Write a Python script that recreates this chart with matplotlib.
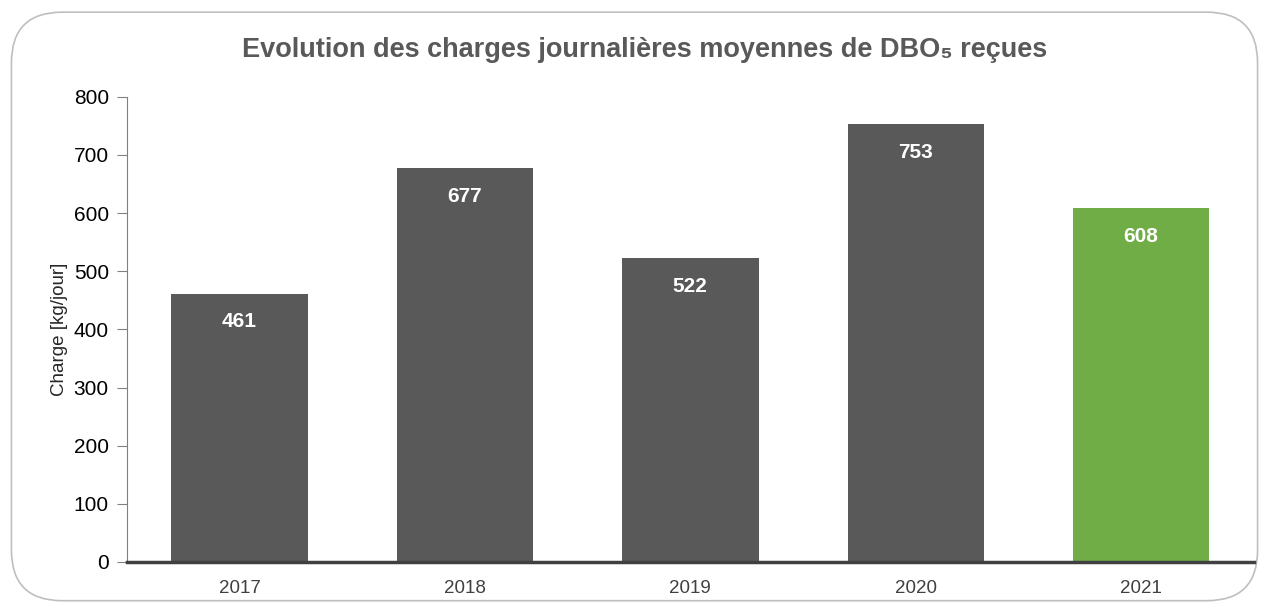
import matplotlib.pyplot as plt
from matplotlib.patches import FancyBboxPatch

# donnees
annees = ['2017', '2018', '2019', '2020', '2021']
charges = [461, 677, 522, 753, 608]
couleurs = ['#595959', '#595959', '#595959', '#595959', '#70AD47']

plt.rcParams['font.family'] = ['Liberation Sans', 'DejaVu Sans']

fig = plt.figure(figsize=(12.69, 6.08), dpi=100)
ax = fig.add_axes([0.100, 0.0757, 0.888, 0.765])

# cadre arrondi autour du graphique
cadre = FancyBboxPatch((0.009, 0.012), 0.982, 0.968, boxstyle='round,pad=0,rounding_size=0.04',
                       transform=fig.transFigure, facecolor='white', edgecolor='#BFBFBF',
                       linewidth=1.2, zorder=-10, mutation_aspect=1269/608)
fig.patches.append(cadre)

x = range(len(annees))
barres = ax.bar(x, charges, width=0.605, color=couleurs, zorder=2)

# etiquettes des valeurs dans les barres
for b, v in zip(barres, charges):
    ax.text(b.get_x() + b.get_width() / 2, v - 48, str(v), ha='center', va='center',
            color='white', fontsize=15, fontweight='bold')

ax.set_xlim(-0.5, 4.5)
ax.set_ylim(0, 800)
ax.set_yticks(range(0, 801, 100))
ax.set_xticks(list(x))
ax.set_xticklabels(annees)
ax.tick_params(axis='y', labelsize=15, length=7, color='#808080', labelcolor='black', pad=6)
ax.tick_params(axis='x', labelsize=13.5, length=0, labelcolor='#404040', pad=13)
ax.set_ylabel('Charge [kg/jour]', fontsize=13.5, color='#262626', labelpad=4)

ax.spines['top'].set_visible(False)
ax.spines['right'].set_visible(False)
ax.spines['left'].set_color('#808080')
ax.spines['bottom'].set_color('#404040')
ax.spines['bottom'].set_linewidth(2.5)
ax.spines['bottom'].set_zorder(3)
ax.patch.set_alpha(0)

fig.text(0.508, 0.918, 'Evolution des charges journalières moyennes de DBO₅ reçues',
         ha='center', va='center', fontsize=19.5, fontweight='bold', color='#595959')

plt.savefig('out.png', dpi=100)
